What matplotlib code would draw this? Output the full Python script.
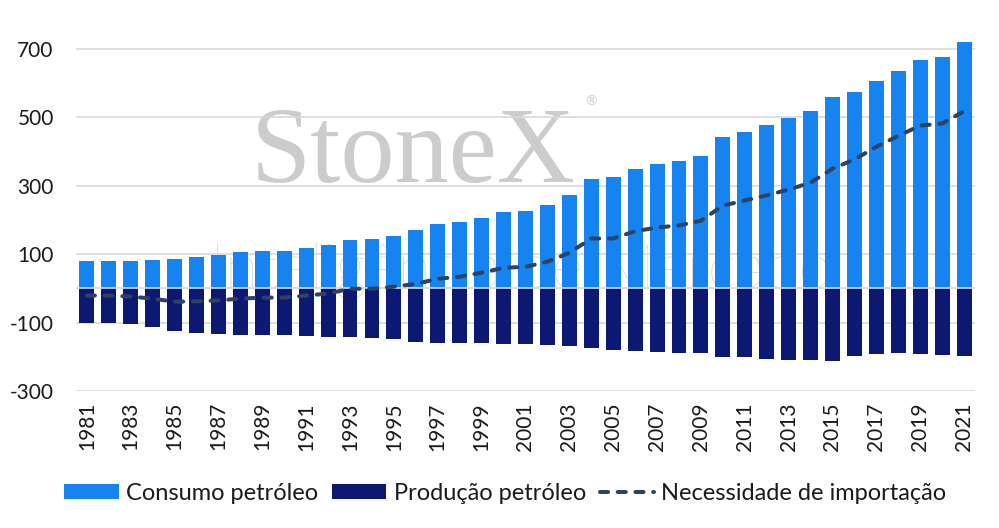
import matplotlib
matplotlib.use("Agg")
import matplotlib.pyplot as plt
import numpy as np

years = list(range(1981, 2022))

# consumo (positivo) e producao (negativo)
consumo = [80, 80, 80, 83, 86, 92, 98, 106, 109, 109,
           118, 127, 141, 144, 153, 170, 188, 194, 206, 223,
           226, 244, 273, 320, 326, 350, 364, 373, 387, 442,
           457, 478, 498, 518, 560, 574, 606, 635, 668, 677, 720]
producao = [-101, -101, -104, -113, -125, -130, -133, -136, -136, -136,
            -139, -142, -142, -145, -148, -157, -160, -160, -160, -163,
            -163, -166, -169, -174, -180, -183, -186, -189, -189, -200,
            -200, -206, -209, -209, -212, -197, -192, -189, -192, -195, -197]
necessidade = [-21, -21, -24, -30, -39, -38, -35, -30, -27, -27,
               -21, -15, -1, -1, 5, 13, 28, 34, 46, 60,
               63, 78, 104, 146, 146, 167, 178, 184, 198, 242,
               257, 272, 289, 309, 350, 377, 414, 446, 476, 482, 518]

yticks = [-300, -100, 100, 300, 500, 700]

plt.rcParams["font.family"] = ["Lato", "DejaVu Sans"]

fig = plt.figure(figsize=(9.99, 5.28), dpi=100)
ax = fig.add_axes([0.076, 0.2595, 0.9, 0.7125])

x = np.arange(len(years))

# marca d'agua
ax.text(14.9, 311, "StoneX", family="Liberation Serif", fontsize=78,
        color="#cbccce", ha="center", va="baseline", zorder=0)
ax.text(23.0, 548, "®", fontsize=10, color="#cbccce", ha="center", va="center", zorder=0)
ax.text(19.8, 2, "Inteligência de Mercado", fontsize=44, color="#cfcfcf",
        ha="center", va="baseline", zorder=0, weight="light")

b1 = ax.bar(x, consumo, width=0.68, color="#1584f0", label="Consumo petróleo", zorder=2)
b2 = ax.bar(x, producao, width=0.68, color="#0d1873", label="Produção petróleo", zorder=2)
ax.axhline(0, color="#d9d9d9", lw=1.2, zorder=2.5)
ln, = ax.plot(x, necessidade, color="#2c4361", lw=2.9, dashes=(2.0, 2.4),
              dash_capstyle="round", label="Necessidade de importação", zorder=3)

ax.set_xlim(-0.5, len(years) - 0.5)
ax.set_ylim(-300, 800)
ax.set_yticks(yticks)
ax.set_yticklabels([str(v) for v in yticks])
ax.set_xticks(x[::2])
ax.set_xticklabels([str(y) for y in years[::2]], rotation=90)
ax.tick_params(axis="y", length=0, pad=16, labelsize=15, labelcolor="#1a1a1a")
ax.tick_params(axis="x", length=0, pad=8, labelsize=15, labelcolor="#1a1a1a")
ax.grid(axis="y", color="#d9d9d9", lw=1.2, zorder=0.5)
ax.set_axisbelow(True)
for s in ax.spines.values():
    s.set_visible(False)

fig.legend(handles=[b1, b2, ln], loc="center", bbox_to_anchor=(0.506, 0.066), ncol=3,
           frameon=False, fontsize=17, handlelength=2.3, handleheight=0.57,
           handletextpad=0.3, columnspacing=0.6, labelcolor="#1a1a1a")

fig.savefig("out.png", dpi=100)
